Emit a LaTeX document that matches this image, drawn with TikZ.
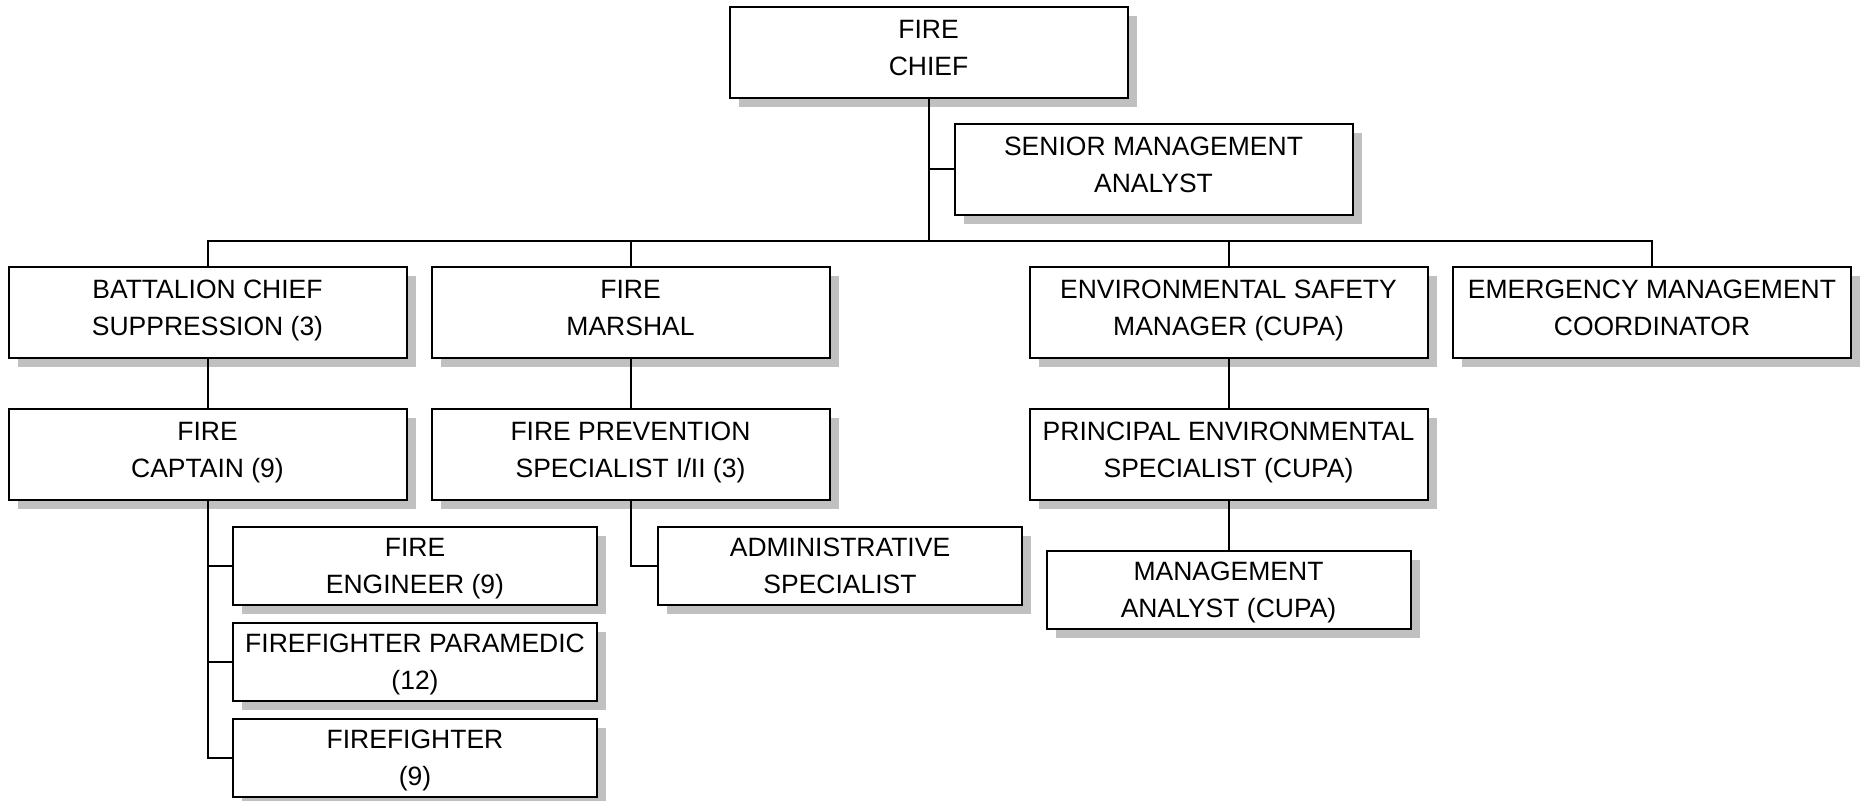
\documentclass[tikz,border=0pt]{standalone}
\usepackage{fontspec}
\setmainfont{Liberation Sans}
\usetikzlibrary{shadows}
\definecolor{shadowgray}{RGB}{192,192,192}
\begin{document}
\begin{tikzpicture}[x=0.5pt,y=-0.5pt,
  box/.style={draw, line width=1pt, fill=white, inner sep=0pt, align=center,
    text depth=0pt, font=\fontsize{13.25}{18.5}\selectfont,
    drop shadow={shadow xshift=4.5pt, shadow yshift=-4.5pt, fill=shadowgray, opacity=1, draw=none}},
  bigbox/.style={box, text depth=4.5pt, minimum width=199pt, minimum height=45.5pt},
  smallbox/.style={box, minimum width=182pt, minimum height=39pt},
  link/.style={line width=1pt}]
% page area
\fill[white] (0,0) rectangle (1866,801);
\useasboundingbox (0,0) rectangle (1866,801);

% top level
\node[bigbox] (chief)   at (928.5,52.5)  {FIRE\\CHIEF};
\node[bigbox] (senior)  at (1153.5,169.5) {SENIOR MANAGEMENT\\ANALYST};

% division heads
\node[bigbox] (batt)    at (207.5,312.5) {BATTALION CHIEF\\SUPPRESSION (3)};
\node[bigbox] (marshal) at (630.5,312.5) {FIRE\\MARSHAL};
\node[bigbox] (env)     at (1228.5,312.5) {ENVIRONMENTAL SAFETY\\MANAGER (CUPA)};
\node[bigbox] (emerg)   at (1652,312.5)  {EMERGENCY MANAGEMENT\\COORDINATOR};

% second level
\node[bigbox] (captain) at (207.5,454.5) {FIRE\\CAPTAIN (9)};
\node[bigbox] (prev)    at (630.5,454.5) {FIRE PREVENTION\\SPECIALIST I/II (3)};
\node[bigbox] (princ)   at (1228.5,454.5) {PRINCIPAL ENVIRONMENTAL\\SPECIALIST (CUPA)};

% staff positions
\node[smallbox] (engineer)    at (415,566)   {FIRE\\ENGINEER (9)};
\node[smallbox] (paramedic)   at (415,661.5) {FIREFIGHTER PARAMEDIC\\(12)};
\node[smallbox] (firefighter) at (415,757.5) {FIREFIGHTER\\(9)};
\node[smallbox] (admin)       at (840,566)   {ADMINISTRATIVE\\SPECIALIST};
\node[smallbox] (mgmt)        at (1228.5,590) {MANAGEMENT\\ANALYST (CUPA)};

% reporting lines
\coordinate (bus) at (0,241);
\draw[link] (chief.south) -- (chief.south |- bus);
\draw[link] (chief.south |- senior.west) -- (senior.west);
\draw[link] (batt.north) -- (batt.north |- bus) -- (emerg.north |- bus) -- (emerg.north);
\draw[link] (marshal.north) -- (marshal.north |- bus);
\draw[link] (env.north) -- (env.north |- bus);

\draw[link] (batt.south) -- (captain.north);
\draw[link] (marshal.south) -- (prev.north);
\draw[link] (env.south) -- (princ.north);
\draw[link] (princ.south) -- (mgmt.north);

\draw[link] (captain.south) -- (captain.south |- firefighter.west) -- (firefighter.west);
\draw[link] (captain.south |- engineer.west) -- (engineer.west);
\draw[link] (captain.south |- paramedic.west) -- (paramedic.west);
\draw[link] (prev.south) |- (admin.west);
\end{tikzpicture}
\end{document}
